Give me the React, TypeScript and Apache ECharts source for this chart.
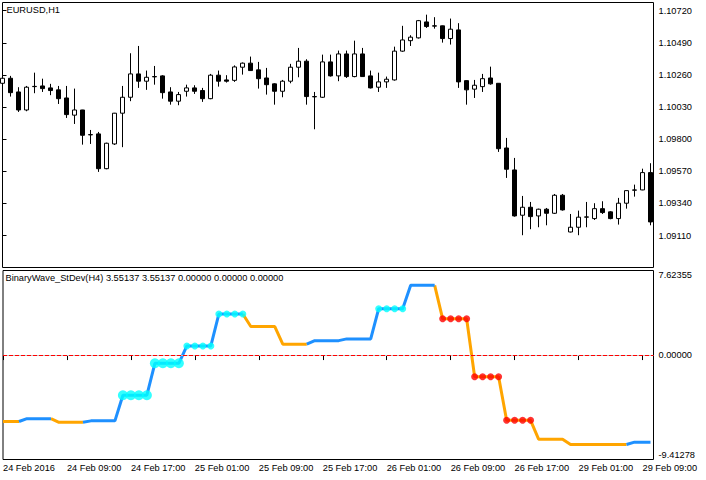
import React, { useEffect, useRef } from 'react';
import * as echarts from 'echarts';

// ---- Main window: EURUSD H1 candles (bar 0 = 24 Feb 2016 01:00) ----
const opens = [
  1.10200, 1.10236, 1.10138, 1.10009, 1.10176, 1.10181, 1.10167, 1.10153, 1.10095, 1.09972,
  1.10009, 1.09833, 1.09838, 1.09589, 1.09766, 1.09986, 1.10100, 1.10267, 1.10215, 1.10248,
  1.10253, 1.10138, 1.10072, 1.10143, 1.10167, 1.10148, 1.10090, 1.10258, 1.10224, 1.10221,
  1.10315, 1.10344, 1.10296, 1.10238, 1.10196, 1.10143, 1.10215, 1.10315, 1.10358, 1.10105,
  1.10100, 1.10353, 1.10253, 1.10410, 1.10248, 1.10410, 1.10253, 1.10172, 1.10210, 1.10224,
  1.10430, 1.10505, 1.10525, 1.10639, 1.10611, 1.10611, 1.10520, 1.10582, 1.10219, 1.10158,
  1.10176, 1.10238, 1.10200, 1.09737, 1.09580, 1.09256, 1.09313, 1.09251, 1.09299, 1.09270,
  1.09399, 1.09136, 1.09170, 1.09242, 1.09232, 1.09303, 1.09280, 1.09232, 1.09342, 1.09435,
  1.09437, 1.09561,
];
const highs = [
  1.10246, 1.10253, 1.10172, 1.10181, 1.10276, 1.10233, 1.10196, 1.10181, 1.10181, 1.10162,
  1.10010, 1.09866, 1.09852, 1.09775, 1.09988, 1.10181, 1.10415, 1.10467, 1.10291, 1.10324,
  1.10258, 1.10172, 1.10138, 1.10190, 1.10186, 1.10167, 1.10267, 1.10291, 1.10258, 1.10328,
  1.10349, 1.10391, 1.10353, 1.10310, 1.10200, 1.10224, 1.10339, 1.10453, 1.10372, 1.10138,
  1.10405, 1.10405, 1.10434, 1.10434, 1.10505, 1.10453, 1.10291, 1.10276, 1.10248, 1.10462,
  1.10611, 1.10544, 1.10653, 1.10691, 1.10673, 1.10613, 1.10663, 1.10630, 1.10221, 1.10224,
  1.10267, 1.10319, 1.10202, 1.09809, 1.09666, 1.09394, 1.09351, 1.09303, 1.09308, 1.09408,
  1.09408, 1.09265, 1.09289, 1.09351, 1.09342, 1.09356, 1.09285, 1.09380, 1.09433, 1.09475,
  1.09589, 1.09628,
];
const lows = [
  1.10188, 1.10105, 1.09995, 1.10000, 1.10129, 1.10138, 1.10115, 1.10052, 1.09952, 1.09909,
  1.09761, 1.09766, 1.09566, 1.09585, 1.09759, 1.09743, 1.10072, 1.10167, 1.10153, 1.10190,
  1.10090, 1.10047, 1.10043, 1.10105, 1.10124, 1.10067, 1.10086, 1.10176, 1.10205, 1.10210,
  1.10262, 1.10289, 1.10162, 1.10119, 1.10047, 1.10100, 1.10200, 1.10243, 1.10047, 1.09871,
  1.10095, 1.10248, 1.10215, 1.10238, 1.10243, 1.10246, 1.10163, 1.10138, 1.10167, 1.10219,
  1.10425, 1.10467, 1.10520, 1.10596, 1.10591, 1.10491, 1.10477, 1.10167, 1.10047, 1.10095,
  1.10138, 1.10190, 1.09709, 1.09523, 1.09246, 1.09113, 1.09156, 1.09170, 1.09184, 1.09265,
  1.09289, 1.09133, 1.09113, 1.09170, 1.09222, 1.09265, 1.09227, 1.09189, 1.09303, 1.09389,
  1.09435, 1.09184,
];
const closes = [
  1.10236, 1.10133, 1.10009, 1.10172, 1.10178, 1.10162, 1.10148, 1.10090, 1.09976, 1.10009,
  1.09828, 1.09831, 1.09589, 1.09771, 1.09986, 1.10100, 1.10267, 1.10215, 1.10243, 1.10246,
  1.10133, 1.10072, 1.10119, 1.10167, 1.10143, 1.10090, 1.10258, 1.10215, 1.10215, 1.10317,
  1.10344, 1.10291, 1.10233, 1.10190, 1.10143, 1.10215, 1.10315, 1.10358, 1.10105, 1.10103,
  1.10353, 1.10253, 1.10410, 1.10248, 1.10410, 1.10248, 1.10167, 1.10210, 1.10229, 1.10430,
  1.10510, 1.10530, 1.10648, 1.10606, 1.10609, 1.10520, 1.10587, 1.10210, 1.10153, 1.10186,
  1.10233, 1.10196, 1.09732, 1.09585, 1.09251, 1.09313, 1.09246, 1.09299, 1.09270, 1.09399,
  1.09294, 1.09170, 1.09242, 1.09244, 1.09303, 1.09275, 1.09232, 1.09342, 1.09432, 1.09437,
  1.09561, 1.09208,
];
const priceTicks = [1.09110, 1.09340, 1.09570, 1.09800, 1.10030, 1.10260, 1.10490, 1.10720];
const PRICE_MIN = 1.08882;
const PRICE_MAX = 1.10778;

// ---- Sub window: BinaryWave_StDev(H4) ----
const waveValues = [
  -5.99, -5.99, -5.99,
  -5.73, -5.73, -5.73, -5.73,
  -6.06, -6.06, -6.06, -6.06,
  -5.93, -5.93, -5.93, -5.93,
  -3.62, -3.62, -3.62, -3.62,
  -0.74, -0.74, -0.74, -0.74,
  0.82, 0.82, 0.82, 0.82,
  3.70, 3.70, 3.70, 3.70,
  2.57, 2.57, 2.57, 2.57,
  0.98, 0.98, 0.98, 0.98,
  1.30, 1.30, 1.30, 1.30,
  1.46, 1.46, 1.46, 1.46,
  4.18, 4.18, 4.18, 4.18,
  6.29, 6.29, 6.29, 6.29,
  3.27, 3.27, 3.27, 3.27,
  -1.96, -1.96, -1.96, -1.96,
  -5.88, -5.88, -5.88, -5.88,
  -7.58, -7.58, -7.58, -7.58,
  -8.06, -8.06, -8.06, -8.06,
  -8.06, -8.06, -8.06, -8.06,
  -7.85, -7.85, -7.85,
];
const bigUpDotBars = [15, 16, 17, 18, 19, 20, 21, 22];
const smallUpDotBars = [23, 24, 25, 26, 27, 28, 29, 30, 47, 48, 49, 50];
const downDotBars = [55, 56, 57, 58, 59, 60, 61, 62, 63, 64, 65, 66];
const WAVE_MIN = -9.41278;
const WAVE_MAX = 7.62355;
const waveTicks = [-9.41278, 0, 7.62355];

// ---- Time axis ----
const timeTickBars = [0, 8, 16, 24, 32, 40, 48, 56, 64, 72, 80];
const timeTickLabels = [
  '24 Feb 2016', '24 Feb 09:00', '24 Feb 17:00', '25 Feb 01:00', '25 Feb 09:00',
  '25 Feb 17:00', '26 Feb 01:00', '26 Feb 09:00', '26 Feb 17:00', '29 Feb 01:00', '29 Feb 09:00',
];

const FONT_FAMILY = 'Liberation Sans';
const FONT_SIZE = 9.25;
const BLUE = '#1E90FF';
const ORANGE = '#FFA500';

function buildOption() {
  const n = waveValues.length;
  const up: boolean[] = [];
  for (let i = 0; i < n; i++) {
    if (i === 0) up.push(false);
    else if (waveValues[i] > waveValues[i - 1]) up.push(true);
    else if (waveValues[i] < waveValues[i - 1]) up.push(false);
    else up.push(up[i - 1]);
  }
  const blueData = waveValues.map((v, i) => [i, up[i] || (i + 1 < n && up[i + 1]) ? v : '-']);
  const orangeData = waveValues.map((v, i) => [i, !up[i] || (i + 1 < n && !up[i + 1]) ? v : '-']);
  const dots = (bars: number[]) => bars.map((b) => [b, waveValues[b]]);
  const labelByBar: Record<number, string> = {};
  timeTickBars.forEach((b, k) => (labelByBar[b] = timeTickLabels[k]));
  const candleData = opens.map((o, i) => [i, o, closes[i], lows[i], highs[i]]);
  const XMAX = 651 / 8;

  const labelStyle = { fontFamily: FONT_FAMILY, fontSize: FONT_SIZE, color: '#000' };

  return {
    animation: false,
    backgroundColor: '#fff',
    textStyle: { fontFamily: FONT_FAMILY },
    grid: [
      { left: 2.5, top: 2.5, width: 651, height: 265, show: true, borderColor: '#000', borderWidth: 1, backgroundColor: '#fff' },
      { left: 2.5, top: 270.5, width: 651, height: 189, show: true, borderColor: '#000', borderWidth: 1, backgroundColor: '#fff' },
    ],
    xAxis: [
      { gridIndex: 0, type: 'value', min: 0, max: XMAX, show: false },
      {
        gridIndex: 1, type: 'value', min: 0, max: XMAX,
        axisLine: { show: false }, splitLine: { show: false },
        axisTick: { show: true, customValues: timeTickBars, length: 5, lineStyle: { color: '#000', width: 1 } },
        axisLabel: {
          customValues: timeTickBars, formatter: (v: number) => labelByBar[v] ?? '',
          align: 'left', margin: 4, showMinLabel: true, showMaxLabel: true, ...labelStyle,
        },
      },
    ],
    yAxis: [
      {
        gridIndex: 0, type: 'value', position: 'right', min: PRICE_MIN, max: PRICE_MAX,
        splitLine: { show: false }, axisLine: { show: false },
        axisTick: { show: true, customValues: priceTicks, length: 4, lineStyle: { color: '#000', width: 1 } },
        axisLabel: { customValues: priceTicks, formatter: (v: number) => v.toFixed(5), margin: 5, ...labelStyle },
      },
      {
        gridIndex: 1, type: 'value', position: 'right', min: WAVE_MIN, max: WAVE_MAX,
        splitLine: { show: false }, axisLine: { show: false },
        axisTick: { show: true, customValues: waveTicks, length: 4, lineStyle: { color: '#000', width: 1 } },
        axisLabel: {
          customValues: waveTicks, formatter: (v: number) => v.toFixed(5), margin: 5,
          showMinLabel: true, showMaxLabel: true,
          verticalAlignMinLabel: 'bottom', verticalAlignMaxLabel: 'top', ...labelStyle,
        },
      },
    ],
    series: [
      {
        type: 'candlestick', xAxisIndex: 0, yAxisIndex: 0, data: candleData,
        encode: { x: 0, y: [1, 2, 3, 4] }, barWidth: 4,
        itemStyle: { color: '#fff', color0: '#000', borderColor: '#000', borderColor0: '#000', borderColorDoji: '#000', borderWidth: 1 },
      },
      {
        type: 'line', xAxisIndex: 1, yAxisIndex: 1, data: [], z: 1, silent: true,
        markLine: { silent: true, symbol: 'none', label: { show: false }, data: [{ yAxis: 0 }], lineStyle: { color: '#C0C0C0', type: 'solid', width: 1 } },
      },
      {
        type: 'line', xAxisIndex: 1, yAxisIndex: 1, data: [], z: 1, silent: true,
        markLine: { silent: true, symbol: 'none', label: { show: false }, data: [{ yAxis: 0 }], lineStyle: { color: '#FF0000', type: [4, 2], width: 1 } },
      },
      {
        type: 'line', xAxisIndex: 1, yAxisIndex: 1, data: orangeData, showSymbol: false, z: 3,
        lineStyle: { color: ORANGE, width: 3 }, connectNulls: false,
      },
      {
        type: 'line', xAxisIndex: 1, yAxisIndex: 1, data: blueData, showSymbol: false, z: 3,
        lineStyle: { color: BLUE, width: 3 }, connectNulls: false,
      },
      {
        type: 'scatter', xAxisIndex: 1, yAxisIndex: 1, data: dots(bigUpDotBars), symbolSize: 10, z: 4,
        itemStyle: { color: '#00FFFF' },
      },
      {
        type: 'scatter', xAxisIndex: 1, yAxisIndex: 1, data: dots(smallUpDotBars), symbolSize: 7, z: 4,
        itemStyle: { color: '#00FFFF' },
      },
      {
        type: 'scatter', xAxisIndex: 1, yAxisIndex: 1, data: dots(downDotBars), symbolSize: 7, z: 4,
        itemStyle: { color: '#FF0000' },
      },
    ],
    graphic: [
      {
        type: 'text', x: 6.5, y: 9.5, z: 10,
        style: { text: 'EURUSD,H1', fill: '#000', font: `${FONT_SIZE}px "${FONT_FAMILY}"`, align: 'left', verticalAlign: 'middle' },
      },
      {
        type: 'text', x: 5.5, y: 277.7, z: 10,
        style: {
          text: 'BinaryWave_StDev(H4) 3.55137 3.55137 0.00000 0.00000 0.00000',
          fill: '#000', font: `${FONT_SIZE}px "${FONT_FAMILY}"`, align: 'left', verticalAlign: 'middle',
        },
      },
    ],
  };
}

export default function App() {
  const ref = useRef<HTMLDivElement>(null);
  useEffect(() => {
    if (!ref.current) return;
    const chart = echarts.init(ref.current, null, { renderer: 'svg' });
    chart.setOption(buildOption() as any);
    return () => chart.dispose();
  }, []);
  return (
    <div
      ref={ref}
      style={{ position: 'fixed', left: 0, top: 0, width: 706, height: 480, background: '#fff' }}
    />
  );
}
